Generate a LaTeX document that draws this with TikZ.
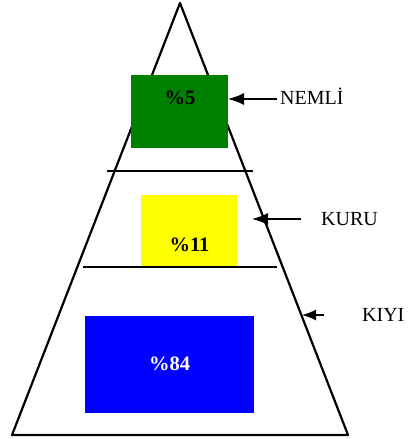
\documentclass[tikz,border=0pt]{standalone}
\usepackage{fontspec}
\setmainfont{Liberation Serif}
\usetikzlibrary{arrows.meta}
\begin{document}
\begin{tikzpicture}[x=1bp,y=-1bp,
  edge/.style={line width=2.2bp,line join=round},
  sep/.style={line width=1.8bp},
  box/.style={draw=none,minimum width=#1,inner sep=0,outer sep=0},
  pct/.style={font=\fontsize{20.5bp}{24bp}\selectfont\bfseries,inner sep=0,anchor=base},
  lbl/.style={font=\fontsize{20bp}{24bp}\selectfont,inner sep=0,anchor=base west},
  ptr/.style={line width=1.5bp,-{Latex[length=16bp,width=12bp]}}]
\useasboundingbox (0,0) rectangle (408,439);
% pyramid
\coordinate (apex) at (180,3);
\coordinate (bl) at (12,435);
\coordinate (br) at (348,435);
\draw[edge] (apex) -- (bl) -- (br) -- cycle;
% boxes
\node[box, fill={rgb,255:red,0;green,128;blue,0}, minimum width=97bp, minimum height=73bp] (green) at (179.5,111.5) {};
\node[box, fill={rgb,255:red,255;green,255;blue,0}, minimum width=96bp, minimum height=73bp] (yellow) at (189,231.5) {};
\node[box, fill={rgb,255:red,0;green,0;blue,255}, minimum width=169bp, minimum height=97bp] (blue) at (169.5,364.5) {};
% separators
\coordinate (s1a) at (107,171); \coordinate (s1b) at (253,171);
\coordinate (s2a) at (83,267); \coordinate (s2b) at (277,267);
\draw[sep] (s1a) -- (s1b);
\draw[sep] (s2a) -- (s2b);
% percentages
\node[pct] (p5) at (180,105) {\%5};
\node[pct] (p11) at (189.5,251) {\%11};
\node[pct,text=white] (p84) at (169.5,370) {\%84};
% labels
\node[lbl] (nemli) at (280,105) {NEMLİ};
\node[lbl] (kuru) at (321,225) {KURU};
\node[lbl] (kiyi) at (362,321) {KIYI};
% arrows
\coordinate (a1s) at (277,99); \coordinate (a1t) at (228,99);
\coordinate (a2s) at (301,219); \coordinate (a2t) at (252,219);
\coordinate (a3s) at (324,315); \coordinate (a3t) at (302,315);
\draw[ptr] (a1s) -- (a1t);
\draw[ptr] (a2s) -- (a2t);
\draw[ptr,-{Latex[length=14bp,width=11bp]}] (a3s) -- (a3t);
\end{tikzpicture}
\end{document}
